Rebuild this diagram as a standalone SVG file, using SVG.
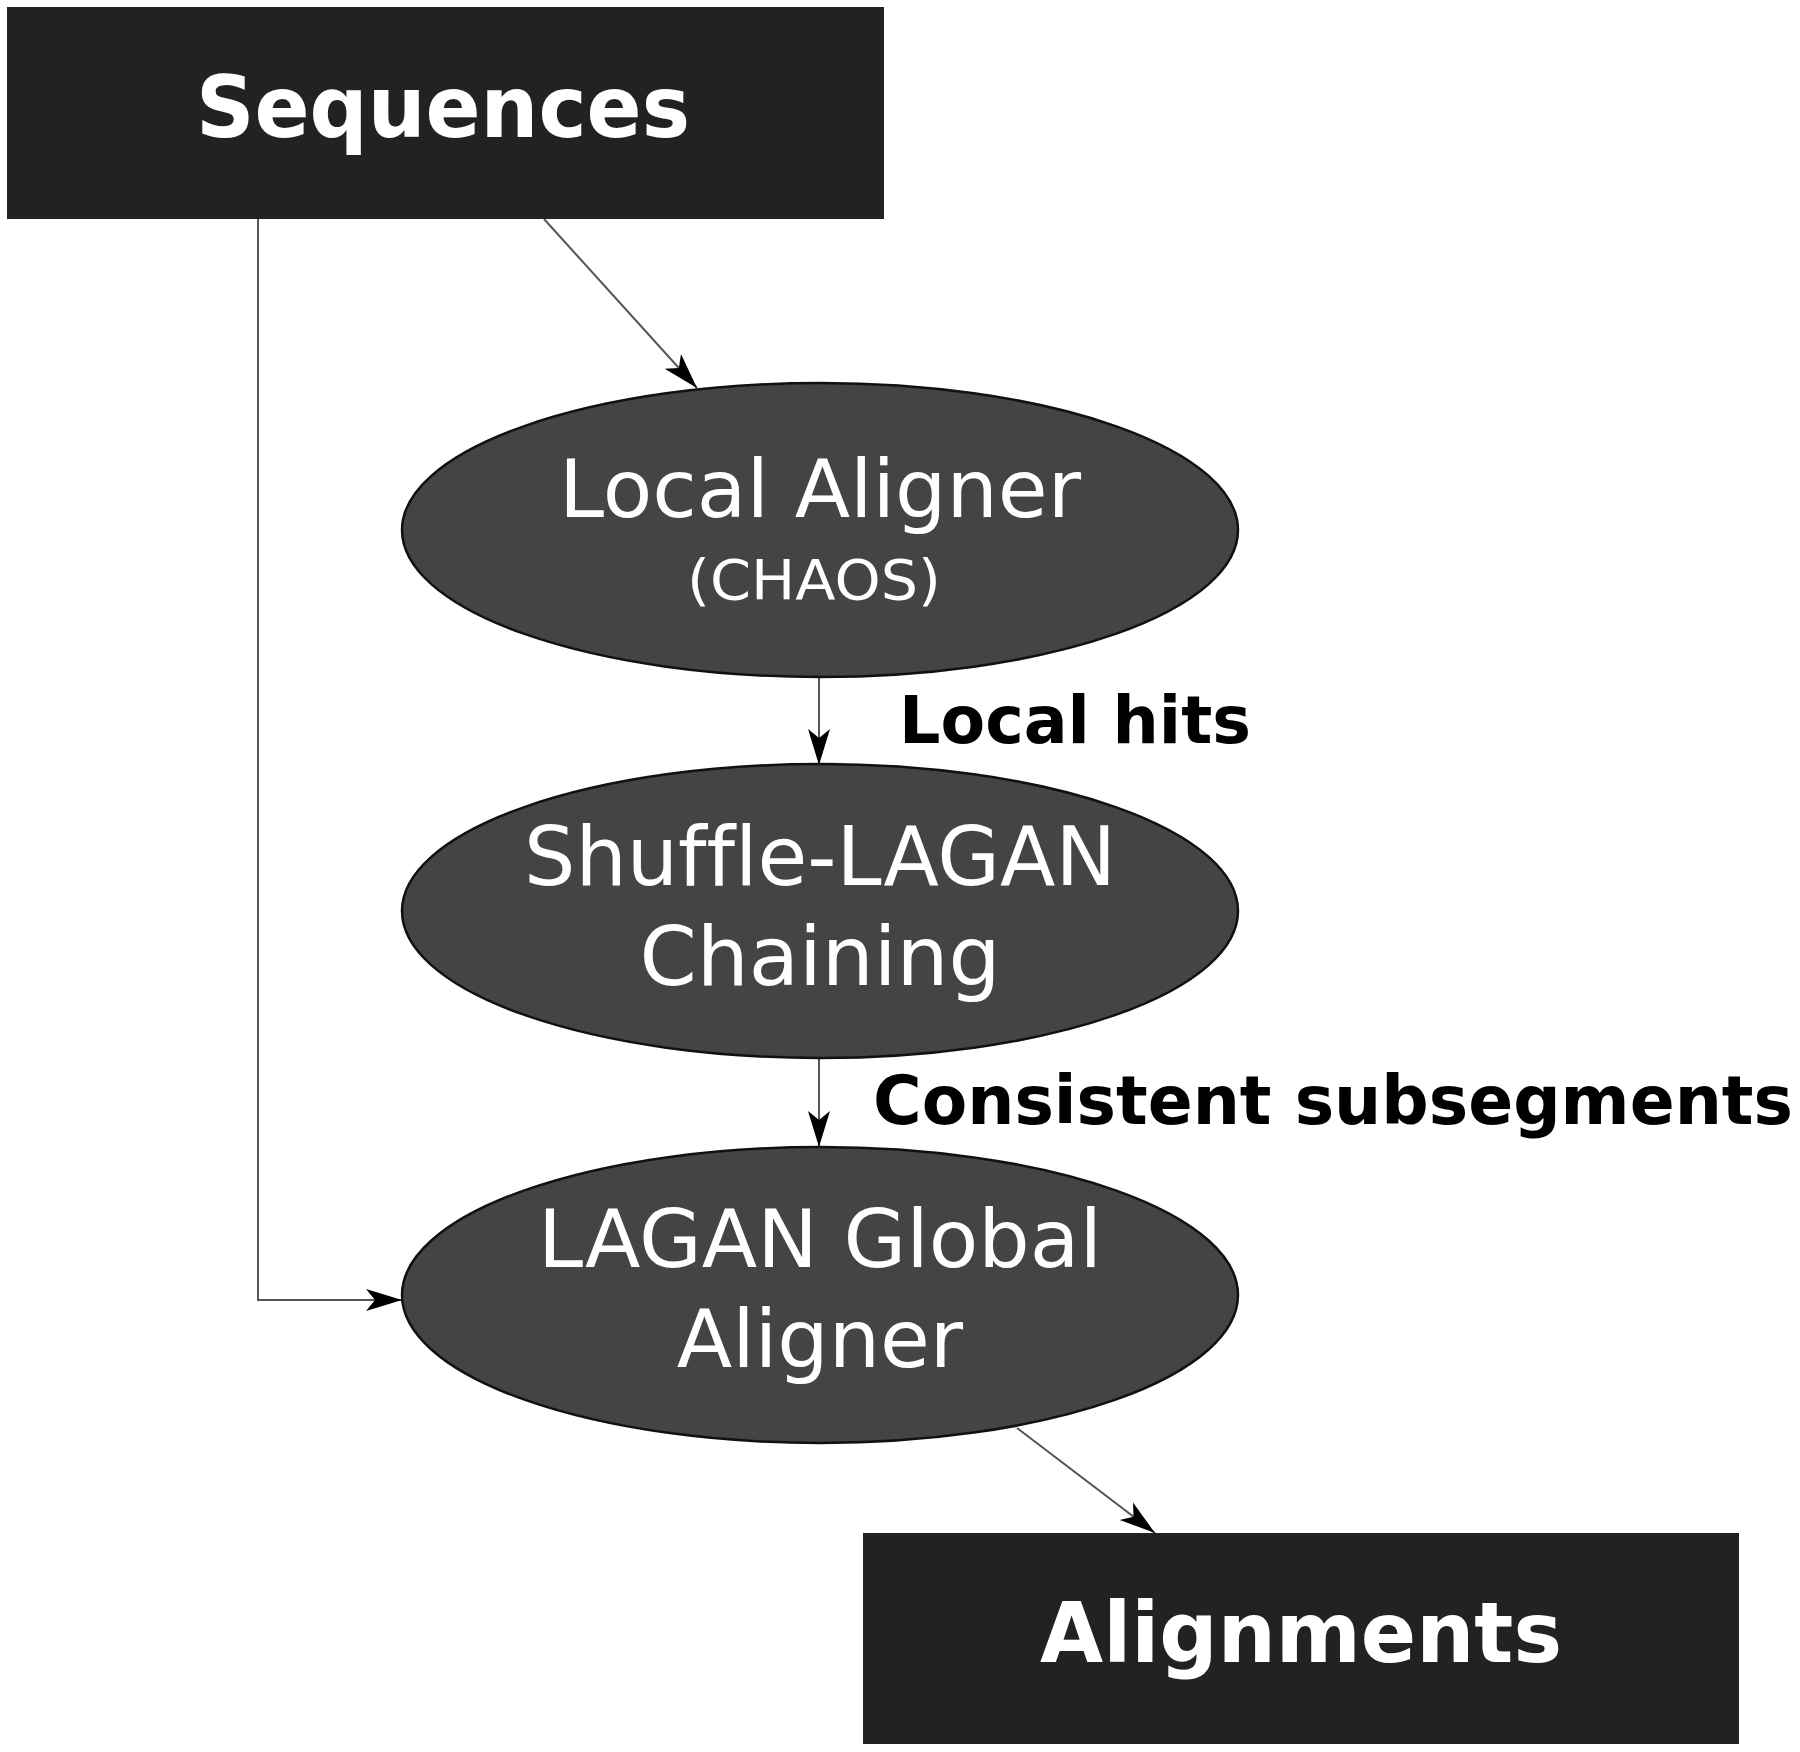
<svg xmlns="http://www.w3.org/2000/svg" width="1800" height="1752" viewBox="0 0 1800 1752">
<style>
text{font-variant-ligatures:none;}
.box{fill:#222222;}
.ell{fill:#444444;stroke:#111111;stroke-width:2.5;}
.big{font-family:"DejaVu Sans",Verdana,sans-serif;font-weight:bold;fill:#ffffff;text-anchor:middle;}
.lbl{font-family:"DejaVu Sans",Verdana,sans-serif;fill:#ffffff;text-anchor:middle;}
.edge{font-family:"DejaVu Sans",Verdana,sans-serif;font-weight:bold;fill:#000000;}
.conn{fill:none;stroke:#555555;stroke-width:2;}
</style>
<defs>
<marker id="arr" markerUnits="userSpaceOnUse" markerWidth="40" markerHeight="26" refX="36" refY="12" orient="auto">
<path d="M0,1 L36,12 L0,23 L9,12 Z" fill="#000000"/>
</marker>
</defs>
<rect width="1800" height="1752" fill="#ffffff"/>
<g id="connectors">
<path class="conn" d="M544,219 L697,388" marker-end="url(#arr)"/>
<path class="conn" d="M819,670 L819,765" marker-end="url(#arr)"/>
<path class="conn" d="M819,1050 L819,1147" marker-end="url(#arr)"/>
<path class="conn" d="M258,219 L258,1300 L402,1300" marker-end="url(#arr)"/>
<path class="conn" d="M1017,1428 L1155,1533" marker-end="url(#arr)"/>
</g>
<g id="sequences">
<rect class="box" x="7" y="7" width="877" height="212"/>
<text class="big" x="443" y="137" font-size="85" textLength="494" lengthAdjust="spacingAndGlyphs">Sequences</text>
</g>
<g id="local-aligner">
<ellipse class="ell" cx="820" cy="530" rx="418" ry="147"/>
<text class="lbl" x="820" y="517" font-size="81">Local Aligner</text>
<text class="lbl" x="814" y="599" font-size="56" textLength="254" lengthAdjust="spacingAndGlyphs">(CHAOS)</text>
</g>
<g id="shuffle-lagan">
<ellipse class="ell" cx="820" cy="911" rx="418" ry="147"/>
<text class="lbl" x="820" y="885" font-size="82" textLength="592" lengthAdjust="spacingAndGlyphs">Shuffle-LAGAN</text>
<text class="lbl" x="820" y="985" font-size="82">Chaining</text>
</g>
<g id="lagan-global">
<ellipse class="ell" cx="820" cy="1295" rx="418" ry="148"/>
<text class="lbl" x="820" y="1267" font-size="81">LAGAN Global</text>
<text class="lbl" x="820" y="1367" font-size="81">Aligner</text>
</g>
<g id="alignments">
<rect class="box" x="863" y="1533" width="876" height="211"/>
<text class="big" x="1301" y="1662" font-size="83" textLength="522" lengthAdjust="spacingAndGlyphs">Alignments</text>
</g>
<g id="edge-labels">
<text class="edge" x="899" y="743" font-size="66" textLength="352" lengthAdjust="spacingAndGlyphs">Local hits</text>
<text class="edge" x="873" y="1124" font-size="67" textLength="920" lengthAdjust="spacingAndGlyphs">Consistent subsegments</text>
</g>
</svg>
